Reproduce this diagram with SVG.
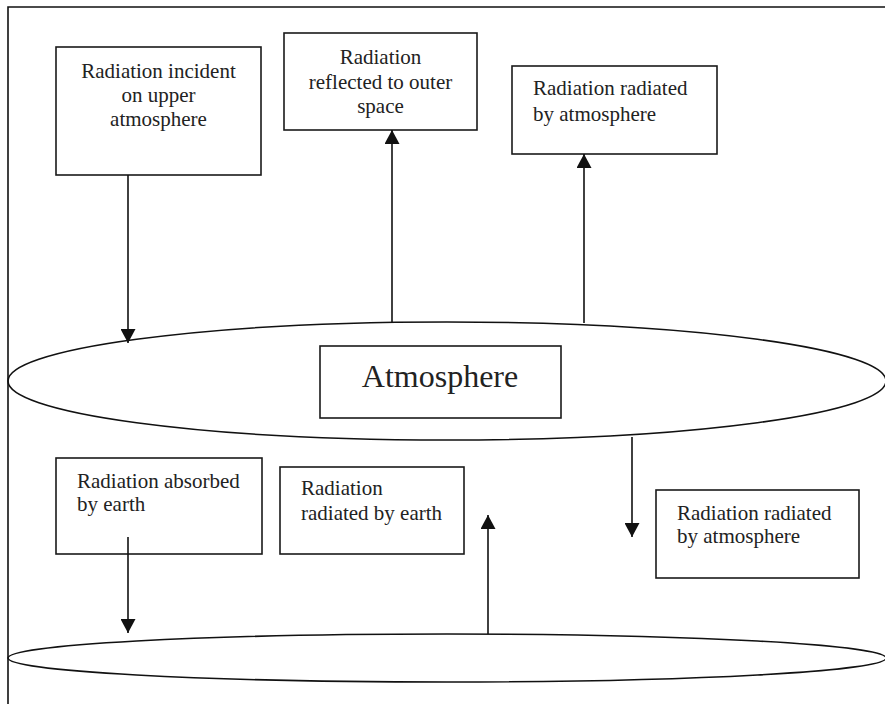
<svg xmlns="http://www.w3.org/2000/svg" width="885" height="704" viewBox="0 0 885 704">
<defs>
<marker id="ah" markerWidth="14" markerHeight="15" viewBox="0 0 14 15" refX="14" refY="7.5" orient="auto" markerUnits="userSpaceOnUse">
<path d="M0,0 L14,7.5 L0,15 Z" fill="#111"/>
</marker>
<style>
.b{fill:#fff;stroke:#1a1a1a;stroke-width:1.6}
.e{fill:none;stroke:#111;stroke-width:1.6}
.t{font-family:"Liberation Serif","Times New Roman",serif;font-size:21px;fill:#222}
.c{text-anchor:middle}
.l{stroke:#111;stroke-width:1.6;fill:none;marker-end:url(#ah)}
</style>
</defs>
<rect width="885" height="704" fill="#fff"/>
<path d="M8,704 L8,7 L885,7" class="e"/>
<g id="atmosphere-ellipse"><ellipse cx="447" cy="381" rx="439" ry="59" class="e"/></g>
<g id="earth-ellipse"><ellipse cx="447" cy="658" rx="439" ry="24" class="e"/></g>
<g id="n1"><rect x="56" y="47" width="205" height="128" class="b"/>
<text class="t c" x="158.5" y="78">Radiation incident</text>
<text class="t c" x="158.5" y="102">on upper</text>
<text class="t c" x="158.5" y="126">atmosphere</text></g>
<g id="n2"><rect x="284" y="33" width="193" height="97" class="b"/>
<text class="t c" x="380.5" y="64">Radiation</text>
<text class="t c" x="380.5" y="89">reflected to outer</text>
<text class="t c" x="380.5" y="113">space</text></g>
<g id="n3"><rect x="512" y="66" width="205" height="88" class="b"/>
<text class="t" x="533" y="95">Radiation radiated</text>
<text class="t" x="533" y="121">by atmosphere</text></g>
<g id="n4"><rect x="320" y="346" width="241" height="72" class="b"/>
<text class="t c" x="440" y="387" style="font-size:32px">Atmosphere</text></g>
<g id="n5"><rect x="56" y="458" width="206" height="96" class="b"/>
<text class="t" x="77" y="488">Radiation absorbed</text>
<text class="t" x="77" y="511">by earth</text></g>
<g id="n6"><rect x="280" y="467" width="184" height="87" class="b"/>
<text class="t" x="301" y="495">Radiation</text>
<text class="t" x="301" y="520">radiated by earth</text></g>
<g id="n7"><rect x="656" y="490" width="203" height="88" class="b"/>
<text class="t" x="677" y="520">Radiation radiated</text>
<text class="t" x="677" y="543">by atmosphere</text></g>
<g id="connectors">
<line x1="128" y1="175" x2="128" y2="343" class="l"/>
<line x1="392" y1="322" x2="392" y2="130" class="l"/>
<line x1="584" y1="323" x2="584" y2="154" class="l"/>
<line x1="632" y1="437" x2="632" y2="537" class="l"/>
<line x1="128" y1="537" x2="128" y2="633" class="l"/>
<line x1="488" y1="634" x2="488" y2="515" class="l"/>
</g>
</svg>
